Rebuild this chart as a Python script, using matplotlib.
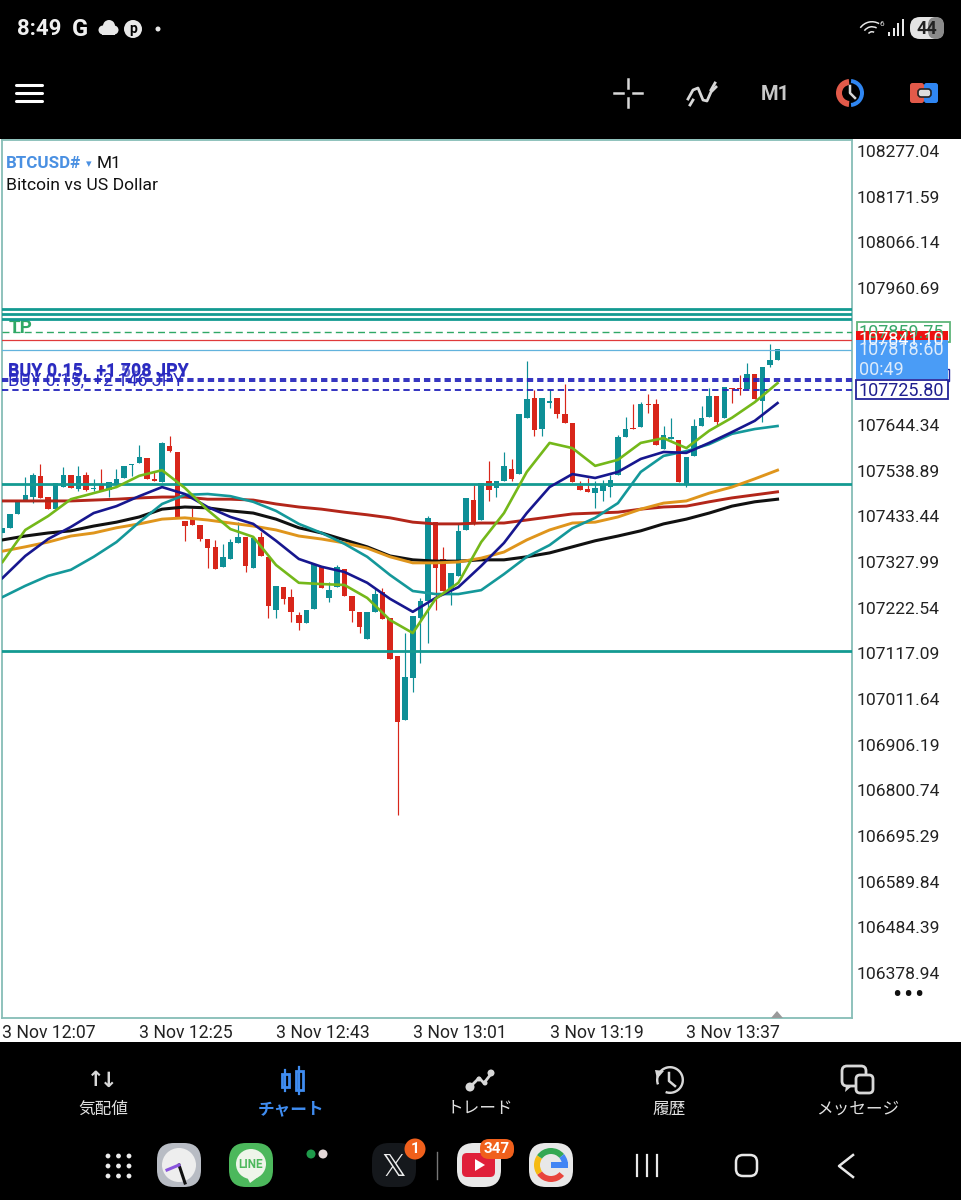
import matplotlib
matplotlib.use("Agg")
import matplotlib.pyplot as plt
from matplotlib.patches import Rectangle, Circle, FancyBboxPatch, Wedge, Polygon

plt.rcParams['font.family'] = ['Roboto', 'Noto Sans CJK JP', 'DejaVu Sans']

opens = [107395,107407,107439,107471,107478,107527,107478,107450,107501,107529,
         107497,107529,107497,107506,107494,107506,107522,107552,107557,107568,
         107520,107513,107596,107582,107423,107427,107413,107381,107363,107317,
         107335,107372,107386,107314,107386,107340,107217,107270,107247,107206,
         107187,107220,107319,107245,107270,107312,107250,107213,107150,107213,
         107259,107199,107111,106963,107060,107199,107238,107420,107335,107261,
         107296,107402,107471,107425,107515,107499,107515,107543,107531,107661,
         107707,107635,107695,107707,107670,107649,107504,107497,107487,107492,
         107501,107529,107617,107637,107640,107693,107693,107589,107612,107610,
         107508,107573,107642,107663,107711,107661,107730,107730,107728,107762,
         107700,107783,107795]
highs = [107407,107439,107467,107524,107534,107554,107478,107511,107547,107529,
         107550,107536,107520,107543,107513,107543,107550,107554,107598,107568,
         107536,107605,107619,107582,107423,107453,107413,107381,107379,107370,
         107381,107420,107386,107384,107397,107340,107273,107270,107266,107213,
         107217,107324,107319,107282,107321,107312,107250,107213,107213,107266,
         107268,107199,107111,107164,107203,107245,107434,107420,107363,107303,
         107418,107476,107506,107511,107561,107515,107582,107566,107670,107792,
         107725,107707,107725,107707,107739,107649,107515,107522,107515,107517,
         107529,107621,107663,107693,107698,107716,107704,107642,107661,107610,
         107571,107658,107688,107730,107711,107732,107730,107760,107788,107762,
         107778,107831,107819]
lows = [107395,107407,107439,107471,107464,107476,107450,107450,107501,107499,
        107492,107492,107492,107492,107478,107506,107522,107527,107557,107520,
        107515,107513,107582,107430,107377,107413,107377,107314,107312,107317,
        107335,107372,107305,107314,107342,107199,107199,107231,107190,107171,
        107187,107220,107268,107236,107270,107250,107190,107164,107150,107213,
        107196,107104,106744,106963,107028,107095,107141,107217,107261,107229,
        107296,107402,107413,107425,107469,107478,107515,107515,107531,107661,
        107619,107619,107684,107661,107649,107513,107494,107490,107453,107469,
        107478,107529,107617,107635,107640,107672,107598,107589,107612,107513,
        107501,107573,107642,107663,107644,107661,107695,107714,107728,107704,
        107651,107778,107795]
closes = [107407,107439,107467,107483,107529,107476,107450,107511,107529,107499,
          107527,107494,107499,107492,107513,107520,107550,107554,107571,107520,
          107515,107603,107584,107430,107411,107413,107381,107360,107312,107340,
          107374,107386,107319,107384,107342,107227,107273,107243,107213,107187,
          107217,107324,107268,107263,107317,107250,107215,107178,107213,107254,
          107196,107104,106959,107062,107203,107238,107430,107314,107261,107303,
          107400,107476,107420,107511,107494,107515,107550,107520,107670,107704,
          107633,107707,107700,107670,107649,107513,107494,107490,107499,107508,
          107517,107617,107635,107635,107693,107691,107598,107621,107617,107513,
          107571,107642,107661,107711,107651,107732,107728,107728,107762,107704,
          107778,107795,107819]

# moving averages, read every third bar
ma_idx = list(range(0, 103, 3))
ma_green = [107328,107402,107434,107473,107487,107501,107527,107540,107499,107448,107404,107386,
            107321,107280,107277,107275,107245,107194,107164,107243,107280,107374,107441,107536,
            107603,107591,107550,107564,107603,107614,107591,107631,107661,107697,107741]
ma_navy = [107291,107342,107381,107409,107441,107457,107480,107501,107485,107455,107432,107416,
           107377,107335,107317,107305,107280,107243,107213,107245,107270,107319,107372,107441,
           107501,107531,107522,107536,107566,107582,107580,107603,107628,107654,107695]
ma_teal = [107247,107273,107296,107310,107340,107374,107420,107462,107483,107485,107480,107467,
           107446,107416,107395,107370,107340,107298,107261,107254,107254,107263,107300,107340,
           107367,107406,107430,107464,107536,107573,107584,107600,107624,107635,107642]
ma_orange = [107353,107363,107374,107388,107395,107407,107416,107427,107430,107425,107418,107411,
             107402,107388,107381,107372,107360,107340,107326,107326,107328,107337,107351,107379,
             107402,107418,107420,107432,107450,107464,107469,107487,107501,107520,107540]
ma_red = [107469,107469,107469,107469,107471,107473,107476,107478,107478,107473,107473,107471,
          107462,107455,107450,107443,107437,107430,107420,107416,107416,107418,107418,107425,
          107432,107439,107441,107443,107450,107455,107457,107467,107476,107483,107490]
ma_black = [107379,107388,107395,107400,107411,107420,107432,107450,107455,107453,107446,107441,
            107427,107407,107395,107379,107363,107342,107333,107330,107330,107333,107333,107340,
            107349,107363,107377,107388,107400,107416,107427,107441,107457,107467,107473]

price_ticks = [108277.04,108171.59,108066.14,107960.69,107644.34,107538.89,107433.44,
               107327.99,107222.54,107117.09,107011.64,106906.19,106800.74,106695.29,
               106589.84,106484.39,106378.94]
time_idx = [0, 18, 36, 54, 72, 90]
time_labels = ['3 Nov 12:07','3 Nov 12:25','3 Nov 12:43','3 Nov 13:01','3 Nov 13:19','3 Nov 13:37']

support_lines = [107912, 107901, 107889, 107508, 107122]
buy_lines = [107751, 107746, 107725.8]
tp_price = 107859.75
bid_price = 107841.10
last_price = 107818.60

nav_labels = ['気配値', 'チャート', 'トレード', '履歴', 'メッセージ']
nav_x = [103, 291, 480, 669, 858]

TEAL = '#0e8f96'
RED = '#d8261a'
LINE_TEAL = '#139a92'

fig = plt.figure(figsize=(9.61, 12), dpi=100, facecolor='black')

# overlay in pixel coordinates for the phone screen around the chart
bg = fig.add_axes([0, 0, 1, 1], zorder=0)
bg.set_xlim(0, 961)
bg.set_ylim(1200, 0)
bg.axis('off')
bg.add_patch(Rectangle((0, 139), 961, 903, fc='white', ec='none'))

# chart
ax = fig.add_axes([1.5/961, 1-1018/1200, 850.5/961, 878/1200], zorder=1)
ax.set_xlim(-0.13, 111.8)
ax.set_ylim(106275.1, 108302.4)
for s in ax.spines.values():
    s.set_color('#86bdb6')
    s.set_linewidth(1.3)

x = list(range(len(opens)))
colors = [TEAL if c >= o else RED for o, c in zip(opens, closes)]
ax.vlines(x, lows, highs, colors=colors, lw=0.85, zorder=2)
bottoms = [min(o, c) for o, c in zip(opens, closes)]
heights = [max(abs(c - o), 2.3) for o, c in zip(opens, closes)]
ax.bar(x, heights, bottom=bottoms, width=0.72, color=colors, zorder=3)

ax.text(0.8, 107868, 'TP', color='#2fa866', fontsize=13.5, fontweight='bold', va='center', zorder=3.5)
for p in support_lines:
    ax.axhline(p, color=LINE_TEAL, lw=2.0, zorder=4)
ax.axhline(tp_price, color='#2fa866', lw=1.0, ls=(0, (5, 3)), zorder=4)
ax.axhline(bid_price, color='#e03a3a', lw=0.9, zorder=4)
ax.axhline(last_price, color='#62b3dd', lw=0.9, zorder=4)
for p in buy_lines:
    ax.axhline(p, color='#2222bb', lw=1.3, ls=(0, (3.5, 2.2)), zorder=4)

ax.plot(ma_idx, ma_red, color='#b3261a', lw=2.1, zorder=5, solid_joinstyle='round')
ax.plot(ma_idx, ma_black, color='#111111', lw=2.2, zorder=5, solid_joinstyle='round')
ax.plot(ma_idx, ma_orange, color='#df951c', lw=2.1, zorder=5, solid_joinstyle='round')
ax.plot(ma_idx, ma_teal, color='#14989a', lw=1.9, zorder=5, solid_joinstyle='round')
ax.plot(ma_idx, ma_navy, color='#17178f', lw=1.9, zorder=6, solid_joinstyle='round')
ax.plot(ma_idx, ma_green, color='#74b81a', lw=1.9, zorder=6, solid_joinstyle='round')

ax.yaxis.tick_right()
ax.set_yticks(price_ticks)
ax.set_yticklabels([f'{p:.2f}' for p in price_ticks], fontsize=12.6, color='#222222')
ax.tick_params(axis='y', length=0, pad=3)
ax.set_xticks(time_idx)
ax.set_xticklabels(time_labels, fontsize=12.7, color='#222222', ha='left')
ax.tick_params(axis='x', length=0, pad=4)

# texts in the chart
top = fig.add_axes([0, 0, 1, 1], zorder=3)
top.set_xlim(0, 961)
top.set_ylim(1200, 0)
top.axis('off')
top.patch.set_alpha(0)


def label(px, py, s, size=12.6, color='#111111', ha='left', weight='normal', **kw):
    top.text(px, py, s, fontsize=size, color=color, ha=ha, va='center', fontweight=weight, **kw)


label(6, 164, 'BTCUSD#', color='#4a90e2', weight='bold', size=12.2)
label(86, 164, '▾', color='#4a90e2', size=8, family=['DejaVu Sans'])
label(97, 164, 'M1', size=12.4)
label(6, 185, 'Bitcoin vs US Dollar', size=12.6)
label(8, 370, 'BUY 0.15,  +1 708 JPY', color='#2a2ac0', size=12.9, weight='bold')
label(8, 371, 'BUY 0.15,  +1 598 JPY', color='#2a2ac0', size=12.9, weight='bold', alpha=0.7)
label(8, 380, 'BUY 0.15,  +2 146 JPY', color='#2a2ac0', size=12.9)

# price flags
top.add_patch(Rectangle((856.5, 322), 93, 20, fc='white', ec='#5fb57a', lw=1.3))
label(859, 333, f'{tp_price:.2f}', color='#3aa86a', size=13)
top.add_patch(Rectangle((856, 331), 92, 17, fc='#ee1111', ec='none'))
label(859, 340, f'{bid_price:.2f}', color='white', size=13)
top.add_patch(Rectangle((946, 369), 3, 12, fc='white', ec='#23239a', lw=1))
top.add_patch(Rectangle((856, 340), 92, 39, fc='#4a9cf6', ec='none'))
label(859, 350, f'{last_price:.2f}', color='#dcebfb', size=13)
label(859, 370, '00:49', color='#dcebfb', size=13)
top.add_patch(Rectangle((856, 380), 92, 19, fc='white', ec='#23239a', lw=1.3))
label(859, 390.5, '107725.80', color='#1f1f8f', size=13)
for dot_x in (897, 908, 919):
    label(dot_x, 995, '•', color='#111111', ha='center', size=20)
top.add_patch(Polygon([[771, 1018], [783, 1018], [777, 1011]], fc='#9a9a9a', ec='none'))

# status bar
label(17, 29, '8:49', color='#f0f0f0', size=16, weight='bold')
label(72, 29, 'G', color='#f0f0f0', size=17, weight='bold')
for cx, cy, r in [(103, 30, 4.5), (109, 26, 6), (114, 30, 4.5)]:
    top.add_patch(Circle((cx, cy), r, fc='#e8e8e8', ec='none'))
top.add_patch(Rectangle((102, 29), 13, 6, fc='#e8e8e8', ec='none'))
top.add_patch(Circle((133, 29), 9, fc='#e8e8e8', ec='none'))
label(133, 29, 'p', color='black', size=10, ha='center', weight='bold')
top.add_patch(Circle((158, 29), 2.5, fc='#e8e8e8', ec='none'))
for r in (5, 10, 15):
    top.add_patch(Wedge((872, 36), r, 215, 300, width=1.5, fc='#e8e8e8', ec='none'))
label(880, 24, '6', color='#e8e8e8', size=6)
for i, h in enumerate([4, 8, 13, 17]):
    top.add_patch(Rectangle((888 + i * 4.5, 36 - h), 2.2, h, fc='#e8e8e8', ec='none'))
top.add_patch(FancyBboxPatch((910, 17), 34, 22, boxstyle='round,pad=0,rounding_size=10', fc='#e4e4e4', ec='none'))
top.add_patch(FancyBboxPatch((928, 17), 16, 22, boxstyle='round,pad=0,rounding_size=8', fc='#8a8a8a', ec='none'))
label(927, 28.5, '44', color='#222222', size=13, ha='center', weight='bold')

# toolbar
for py in (85, 93, 101):
    top.plot([16, 42], [py, py], color='white', lw=2.2, solid_capstyle='round')
top.plot([614, 623], [93, 93], color='#d8d8d8', lw=1.8)
top.plot([633, 642], [93, 93], color='#d8d8d8', lw=1.8)
top.plot([628, 628], [79, 88], color='#d8d8d8', lw=1.8)
top.plot([628, 628], [98, 107], color='#d8d8d8', lw=1.8)
top.plot([688, 693, 698, 703, 707, 711, 716], [99, 90, 88, 100, 101, 92, 87], color='#d8d8d8', lw=2)
top.plot([690, 693], [105, 100], color='#d8d8d8', lw=2)
top.plot([711, 715], [90, 83], color='#d8d8d8', lw=2)
label(775, 94, 'M1', color='#c8c8c8', size=14.5, ha='center', weight='bold')
top.add_patch(Wedge((850, 93), 14, 95, 265, width=6, fc='#e25a4a', ec='none'))
top.add_patch(Wedge((850, 93), 14, 275, 85, width=4, fc='#2f86f2', ec='none'))
top.plot([850, 850, 855], [86, 93, 98], color='#d8d8d8', lw=1.8)
top.add_patch(FancyBboxPatch((910, 83), 14, 20, boxstyle='round,pad=0,rounding_size=2.5', fc='#e25a4a', ec='none'))
top.add_patch(FancyBboxPatch((924, 83), 14, 20, boxstyle='round,pad=0,rounding_size=2.5', fc='#2f86f2', ec='none'))
top.add_patch(FancyBboxPatch((918, 89), 13, 8, boxstyle='round,pad=0,rounding_size=3', fc='#dddddd', ec='#222222', lw=1.2))

# bottom navigation
for s, nx, c in zip(nav_labels, nav_x, ['#e0e0e0', '#3f8cf0', '#e0e0e0', '#e0e0e0', '#e0e0e0']):
    label(nx, 1109, s, color=c, size=12, ha='center', weight='bold' if c == '#3f8cf0' else 'normal')
label(96, 1080, '↑', color='#d8d8d8', size=15, ha='center', weight='bold', family=['DejaVu Sans'])
label(109, 1081, '↓', color='#d8d8d8', size=15, ha='center', weight='bold', family=['DejaVu Sans'])
for nx, t, b in [(285, 1070, 1091), (299, 1067, 1094)]:
    top.plot([nx, nx], [t, b], color='#3f8cf0', lw=1.6)
    top.add_patch(Rectangle((nx - 3.5, t + 4), 7, b - t - 8, fc='black', ec='#3f8cf0', lw=2))
top.plot([470, 479, 484, 491], [1087, 1078, 1083, 1074], color='#d8d8d8', lw=2)
for nx, ny, r in [(470, 1087, 4.5), (479, 1079, 2.5), (485, 1083, 2.5), (491, 1073, 3.5)]:
    top.add_patch(Circle((nx, ny), r, fc='#d8d8d8', ec='none'))
top.add_patch(Wedge((670, 1080), 14, 160, 110, width=2.4, fc='#d8d8d8', ec='none'))
top.add_patch(Polygon([[655, 1070], [664, 1071], [657, 1079]], fc='#d8d8d8', ec='none'))
top.plot([669, 669, 675], [1073, 1081, 1086], color='#d8d8d8', lw=1.8)
top.add_patch(FancyBboxPatch((842, 1066), 24, 20, boxstyle='round,pad=0,rounding_size=5', fc='black', ec='#d8d8d8', lw=2))
top.add_patch(Polygon([[846, 1086], [845, 1092], [852, 1086]], fc='#d8d8d8', ec='none'))
top.add_patch(FancyBboxPatch((856, 1075), 17, 18, boxstyle='round,pad=0,rounding_size=4', fc='black', ec='#d8d8d8', lw=2))

# dock
for i in range(3):
    for j in range(3):
        top.add_patch(Circle((108 + i * 10.5, 1156 + j * 10), 2.4, fc='#eeeeee', ec='none'))


def app_icon(cx, fc):
    top.add_patch(FancyBboxPatch((cx - 22, 1143), 44, 44, boxstyle='round,pad=0,rounding_size=17', fc=fc, ec='none'))


app_icon(179, '#b8bcc4')
top.add_patch(Circle((179, 1165), 17, fc='#eeeeee', ec='none'))
top.plot([179, 185], [1165, 1183], color='#111111', lw=2.2)
top.plot([179, 167], [1165, 1170], color='#8a55dd', lw=2.2)
app_icon(251, '#4cb85c')
top.add_patch(Circle((251, 1164), 15, fc='#eef5ea', ec='none'))
top.add_patch(Polygon([[247, 1177], [258, 1177], [250, 1183]], fc='#eef5ea', ec='none'))
label(251, 1165, 'LINE', color='#4cb85c', size=8.5, ha='center', weight='bold')
top.add_patch(Circle((311, 1154), 4.5, fc='#1e9a4a', ec='none'))
top.add_patch(Circle((323, 1154), 4.5, fc='#e4d8d8', ec='none'))
app_icon(394, '#15181c')
label(394, 1167, '𝕏', color='#eeeeee', size=22, ha='center', family=['DejaVu Sans'])
top.add_patch(Circle((415, 1149), 10.5, fc='#f0601c', ec='none'))
label(415, 1149, '1', color='white', size=11, ha='center', weight='bold')
top.plot([437, 437], [1152, 1179], color='#777777', lw=1)
app_icon(479, '#e8e8e8')
top.add_patch(FancyBboxPatch((462, 1153), 33, 24, boxstyle='round,pad=0,rounding_size=5', fc='#e0203a', ec='none'))
top.add_patch(Polygon([[475, 1159], [475, 1171], [485, 1165]], fc='white', ec='none'))
top.add_patch(FancyBboxPatch((480, 1139), 34, 20, boxstyle='round,pad=0,rounding_size=9', fc='#f0601c', ec='none'))
label(497, 1149, '347', color='white', size=11, ha='center', weight='bold')
app_icon(551, '#e8e8e8')
for a, b, c in [(40, 145, '#e8453c'), (145, 215, '#f5bb14'), (215, 320, '#34a853'), (320, 365, '#4285f4')]:
    top.add_patch(Wedge((551, 1165), 17, a, b, width=6, fc=c, ec='none'))
top.add_patch(Rectangle((551, 1162), 17, 6, fc='#4285f4', ec='none'))
for nx in (637, 647, 657):
    top.plot([nx, nx], [1155, 1176], color='#e8e8e8', lw=1.6)
top.add_patch(FancyBboxPatch((736, 1155), 21, 21, boxstyle='round,pad=0,rounding_size=7', fc='none', ec='#e8e8e8', lw=1.8))
top.plot([853, 839, 853], [1155, 1166, 1177], color='#e8e8e8', lw=1.8)

fig.savefig('out.png', dpi=100, facecolor='black')
